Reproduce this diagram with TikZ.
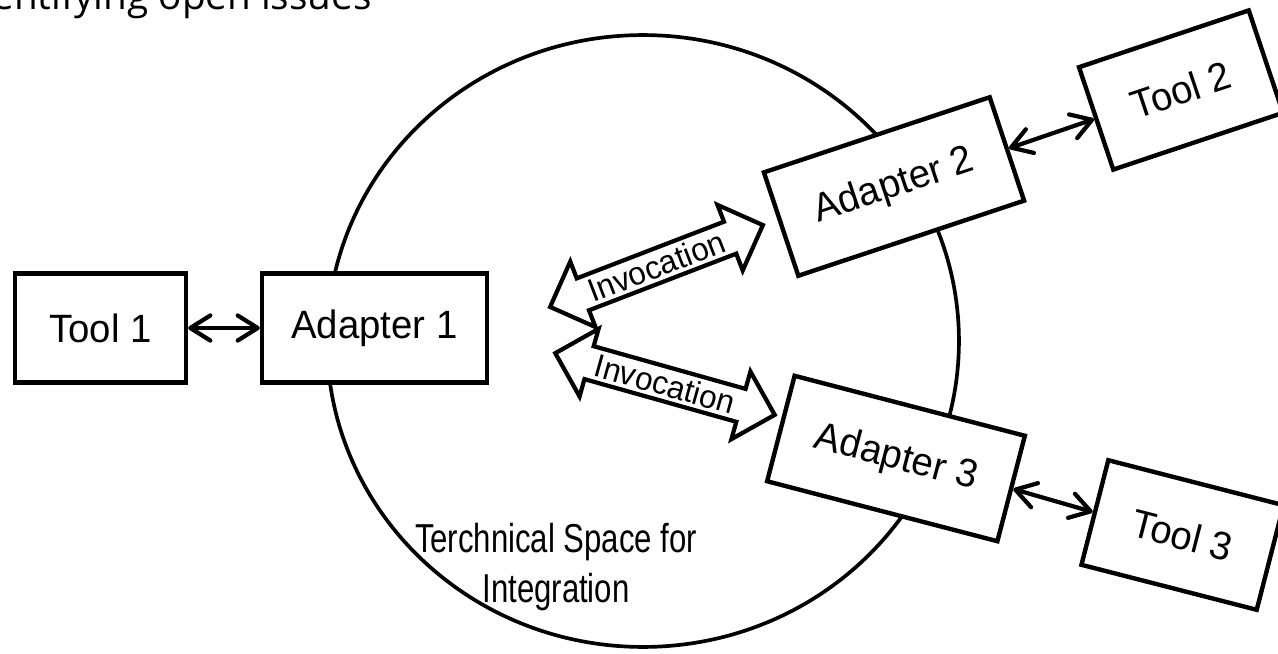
\documentclass[tikz,border=0pt]{standalone}
\usepackage{fontspec}
\setmainfont[FakeStretch=0.97]{Liberation Sans}
\newfontfamily\headfont{Open Sans}
\newfontfamily\narrowfont[FakeStretch=0.77]{Liberation Sans}
\usetikzlibrary{shapes.arrows, arrows.meta}

\begin{document}
\begin{tikzpicture}[x=0.02cm, y=-0.02cm,
  box/.style={draw, line width=2.5pt, fill=white, inner sep=0pt,
    minimum height=2.18cm, font=\fontsize{22.5}{27}\selectfont},
  link/.style={line width=2.4pt, line cap=round,
    {Straight Barb[length=4mm,width=5mm,round]}-{Straight Barb[length=4mm,width=5mm,round]}},
  invoke/.style={double arrow, draw, line width=2.4pt, fill=white,
    inner xsep=0pt, inner ysep=0.3cm, minimum height=4.56cm,
    double arrow head extend=0.36cm},
  invtext/.style={inner sep=0pt, font=\fontsize{18.5}{22}\selectfont}]
  \useasboundingbox (0,0) rectangle (1278,653);
  \clip (0,0) rectangle (1278,653);

  % Heading (cut off at the top)
  \node[anchor=base east, inner sep=0pt, font=\headfont\fontsize{22}{26}\selectfont]
    (heading) at (372,9) {Identifying open issues};

  % Technical space
  \draw[line width=2.1pt] (643,341) ellipse [x radius=6.32cm, y radius=6.12cm];
  \node[font=\narrowfont\fontsize{23}{28.4}\selectfont, align=center]
    (space) at (556,567) {Terchnical Space for\\Integration};

  % Tools and adapters
  \node[box, minimum width=3.42cm] (t1) at (100.5,328) {Tool 1};
  \node[box, minimum width=4.5cm] (a1) at (374.5,328) {Adapter 1};
  \node[box, minimum width=4.76cm, rotate=18.4] (a2) at (894,186.5) {Adapter 2};
  \node[box, minimum width=3.58cm, minimum height=2.16cm, rotate=18.5] (t2) at (1181,90) {Tool 2};
  \node[box, minimum width=4.76cm, rotate=-14.6] (a3) at (896,458.5) {Adapter 3};
  \node[box, minimum width=3.62cm, minimum height=2.16cm, rotate=-14.4] (t3) at (1182.5,535) {Tool 3};

  % Links
  \draw[link] (t1.east) -- (a1.west);
  \draw[link] (a2.east) -- (t2.west);
  \draw[link] (a3.east) -- (t3.west);

  % Invocations
  \node[invoke, rotate=21.05] (inv1) at (656.5,266) {};
  \node[invtext, rotate=21.05] (inv1text) at (inv1.center) {Invocation};
  \node[invoke, rotate=-15.7] (inv2) at (665,384) {};
  \node[invtext, rotate=-15.7] (inv2text) at (inv2.center) {Invocation};
\end{tikzpicture}
\end{document}
